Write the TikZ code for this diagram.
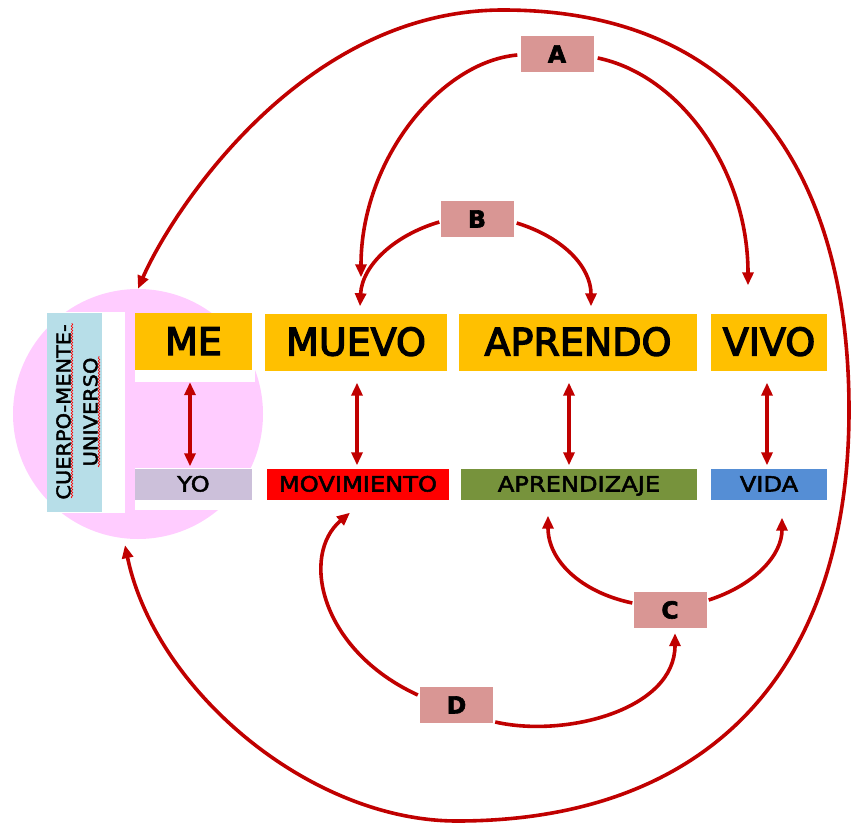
\documentclass[tikz,border=0pt]{standalone}
\usepackage{fontspec}
\setmainfont{DejaVu Sans}
\newfontfamily\wordfont[FakeBold=3.5]{DejaVu Sans}
\newfontfamily\labfont[FakeStretch=1.15,FakeBold=2.5]{DejaVu Sans}
\newfontfamily\cmufont[FakeStretch=1.1,FakeBold=2.2]{DejaVu Sans}
\newfontfamily\tagfont[FakeBold=2.5]{DejaVu Sans Bold}
\usetikzlibrary{arrows.meta,decorations.pathmorphing}
\definecolor{gold}{RGB}{255,192,0}
\definecolor{lav}{RGB}{204,192,218}
\definecolor{olive}{RGB}{119,147,60}
\definecolor{vblue}{RGB}{85,142,213}
\definecolor{lblue}{RGB}{183,222,232}
\definecolor{pinkc}{RGB}{255,204,255}
\definecolor{rosebox}{RGB}{217,150,148}
\definecolor{darkred}{RGB}{192,0,0}
\begin{document}
\begin{tikzpicture}[x=1pt,y=-1pt,
 word/.style={fill=gold, minimum height=57pt, inner sep=0pt, text height=27pt, text depth=0pt, font=\wordfont\fontsize{38}{40}\selectfont},
 sub/.style={minimum height=31pt, inner sep=0pt, text height=15pt, text depth=0pt, font=\labfont\fontsize{21}{23}\selectfont},
 tag/.style={fill=rosebox, minimum width=73pt, minimum height=36pt, inner sep=0pt, text height=17pt, text depth=0pt, font=\tagfont\fontsize{23.5}{25}\selectfont},
 link/.style={draw=darkred, line width=3.6pt, -{Triangle[length=13pt,width=11pt]}},
 dlink/.style={draw=darkred, line width=3.6pt, {Triangle[length=13pt,width=11pt]}-{Triangle[length=13pt,width=11pt]}},
 wavy/.style={draw=red, line width=0.6pt, decorate, decoration={snake, amplitude=0.8pt, segment length=3pt}}
]
\useasboundingbox (0,0) rectangle (851,824);
% circle and side label
\node[circle, fill=pinkc, minimum size=250pt, inner sep=0pt] (cmu) at (138,414) {};
\fill[white] (47,312) rectangle (125,513);
\node[fill=lblue, minimum width=55pt, minimum height=199pt, inner sep=0pt] (cmubox) at (74.5,412.5) {};
\node[rotate=90, align=center, inner sep=0pt, font=\cmufont\fontsize{19}{27}\selectfont] (cmulabel) at (77,412) {CUERPO-MENTE-\\UNIVERSO};
\draw[wavy] (72,498) -- (72,323);
\draw[wavy] (99,467) -- (99,356);
% white backs
\fill[white] (135,313) rectangle (255,382);
\fill[white] (135,468) rectangle (255,510);
% word boxes
\node[word, minimum width=117pt] (me) at (193.5,341.5) {ME};
\node[word, minimum width=182pt] (muevo) at (356,342) {MUEVO};
\node[word, minimum width=238pt] (aprendo) at (578,342) {APRENDO};
\node[word, minimum width=116pt] (vivo) at (769,342) {VIVO};
\node[sub, fill=lav, minimum width=117pt] (yo) at (193.5,484) {YO};
\node[sub, fill=red, minimum width=182pt] (mov) at (358,484) {MOVIMIENTO};
\node[sub, fill=olive, minimum width=236pt] (apz) at (579,484) {APRENDIZAJE};
\node[sub, fill=vblue, minimum width=116pt] (vida) at (769,484) {VIDA};
% tags
\node[tag] (A) at (557,54) {A};
\node[tag] (B) at (477,219) {B};
\node[tag] (C) at (670,610) {C};
\node[tag] (D) at (456.5,705) {D};
% vertical double arrows
\draw[dlink] ([xshift=-3.5pt,yshift=-12pt]me.south) -- ([xshift=-3.5pt,yshift=2pt]yo.north);
\draw[dlink] ([xshift=1pt,yshift=-12pt]muevo.south) -- ([xshift=-1pt,yshift=3pt]mov.north);
\draw[dlink] ([xshift=-9pt,yshift=-12pt]aprendo.south) -- ([xshift=-10pt,yshift=3pt]apz.north);
\draw[dlink] ([xshift=-2pt,yshift=-12pt]vivo.south) -- ([xshift=-2pt,yshift=3pt]vida.north);
% A arcs
\draw[link] ([xshift=-3pt,yshift=-1pt]A.west) .. controls (440,62) and (361,160) .. ([xshift=5pt,yshift=36pt]muevo.north);
\draw[link] ([xshift=4pt,yshift=-4pt]A.east) .. controls (680,75) and (748,170) .. ([xshift=-21pt,yshift=28pt]vivo.north);
% B arcs
\draw[link] ([xshift=-1pt,yshift=-3pt]B.west) .. controls (395,235) and (362,265) .. ([xshift=4pt,yshift=7pt]muevo.north);
\draw[link] ([xshift=3pt,yshift=-4pt]B.east) .. controls (565,238) and (591,268) .. ([xshift=13pt,yshift=7pt]aprendo.north);
% C arcs
\draw[link] ([xshift=-1pt,yshift=7pt]C.west) .. controls (580,592) and (548,560) .. ([xshift=-31pt,yshift=-16pt]apz.south);
\draw[link] ([xshift=2pt,yshift=10pt]C.east) .. controls (755,585) and (782,555) .. ([xshift=13pt,yshift=-18pt]vida.south);
% D arcs
\draw[link] ([xshift=-2pt,yshift=10pt]D.west) .. controls (320,650) and (300,555) .. ([xshift=-8pt,yshift=-13pt]mov.south);
\draw[link] ([xshift=2pt,yshift=-17pt]D.east) .. controls (565,738) and (675,710) .. ([xshift=5pt,yshift=-5pt]C.south);
% outer loop
\draw[dlink] ([xshift=-13pt,yshift=-6pt]cmu.south) .. controls (155,690) and (310,821) .. (457,821)
  .. controls (700,821) and (849,680) .. (849,410)
  .. controls (849,170) and (740,10) .. (503,10)
  .. controls (300,10) and (170,215) .. (cmu.north);
\end{tikzpicture}
\end{document}
